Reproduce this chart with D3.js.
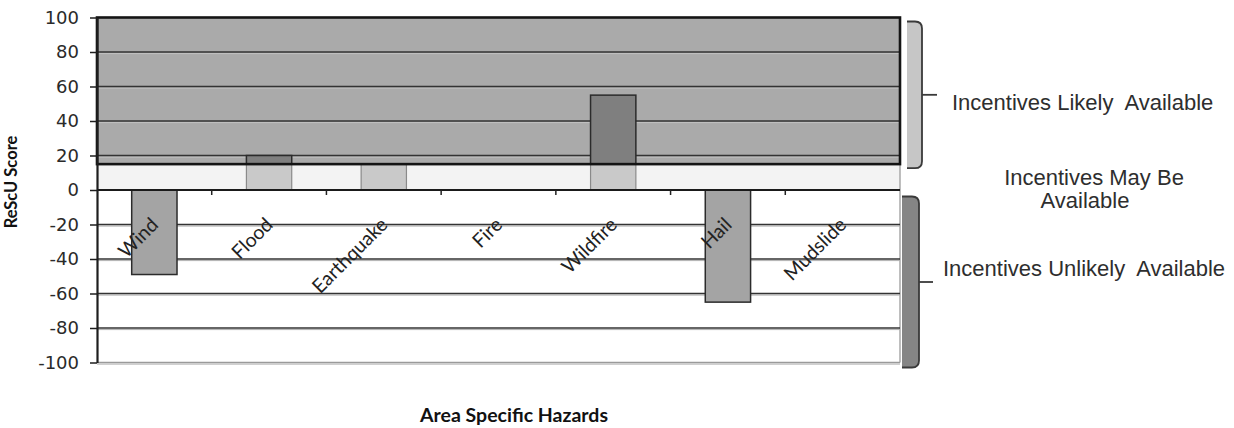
<!DOCTYPE html>
<html>
<head>
<meta charset="utf-8">
<script src="https://cdn.jsdelivr.net/npm/d3@7/dist/d3.min.js"></script>
<style>
  html, body { margin: 0; padding: 0; background: #fff; }
  svg { display: block; }
</style>
</head>
<body>
<svg id="chart" width="1234" height="428"></svg>
<script>
// Hazard categories and their ReScU scores
const categories = ["Wind", "Flood", "Earthquake", "Fire", "Wildfire", "Hail", "Mudslide"];
const scores = [-49, 20, 15, 0, 55, -65, 0];

// Value axis ticks
const yTicks = [100, 80, 60, 40, 20, 0, -20, -40, -60, -80, -100];

// Score bands: [lower, upper] for each incentive zone
const zoneNames = ["Incentives Likely Available", "Incentives May Be Available", "Incentives Unlikely Available"];
const zoneLow = [15, 0, -100];
const zoneHigh = [100, 15, 0];

const svg = d3.select("#chart");

const x = d3.scaleBand().domain(categories).range([97, 900]);
const y = d3.scaleLinear().domain([-100, 100]).range([362.5, 17.5]);
const x0 = x.range()[0], x1 = x.range()[1];
const barW = x.bandwidth() * 0.395;

// zone styling: background, bar fill, bar outline
const zoneBg = ["#aaaaaa", "#f3f3f3", "#ffffff"];
const barFill = ["#7f7f7f", "#c9c9c9", "#a4a4a4"];
const barStroke = ["#2b2b2b", "#8a8a8a", "#2b2b2b"];

const plot = svg.append("g");

// zone backgrounds
plot.selectAll("rect.zone")
  .data(zoneNames)
  .join("rect")
  .attr("class", "zone")
  .attr("x", x0)
  .attr("width", x1 - x0)
  .attr("y", (d, i) => y(zoneHigh[i]))
  .attr("height", (d, i) => y(zoneLow[i]) - y(zoneHigh[i]))
  .attr("fill", (d, i) => zoneBg[i]);

// right edge of the lower zones
plot.append("line")
  .attr("x1", x1).attr("x2", x1)
  .attr("y1", y(zoneHigh[1])).attr("y2", y(-100))
  .attr("stroke", "#a8a8a8").attr("stroke-width", 1.5);

// horizontal gridlines
const gridVals = yTicks.filter(v => v !== 0 && v !== 100);
const inTop = v => v > zoneLow[0];
plot.selectAll("line.grid-hi")
  .data(gridVals)
  .join("line")
  .attr("class", "grid-hi")
  .attr("x1", x0).attr("x2", x1)
  .attr("y1", v => y(v) + 1.6).attr("y2", v => y(v) + 1.6)
  .attr("stroke", v => inTop(v) ? "#c2c2c2" : "#b0b0b0")
  .attr("stroke-width", 1);
plot.selectAll("line.grid")
  .data(gridVals)
  .join("line")
  .attr("class", "grid")
  .attr("x1", x0).attr("x2", x1)
  .attr("y1", v => y(v)).attr("y2", v => y(v))
  .attr("stroke", v => v === -100 ? "#9a9a9a" : "#333333")
  .attr("stroke-width", 1.6);

// bars, split into the part that falls in each zone
const segments = [];
categories.forEach((c, ci) => {
  const v = scores[ci];
  const lo = Math.min(0, v), hi = Math.max(0, v);
  zoneNames.forEach((z, zi) => {
    const a = Math.max(lo, zoneLow[zi]);
    const b = Math.min(hi, zoneHigh[zi]);
    if (b > a) segments.push({ c, a, b, zi });
  });
});

plot.selectAll("rect.bar")
  .data(segments)
  .join("rect")
  .attr("class", "bar")
  .attr("x", d => x(d.c) + (x.bandwidth() - barW) / 2)
  .attr("width", barW)
  .attr("y", d => y(d.b))
  .attr("height", d => y(d.a) - y(d.b))
  .attr("fill", d => barFill[d.zi])
  .attr("stroke", d => barStroke[d.zi])
  .attr("stroke-width", d => d.zi === 1 ? 1.2 : 1.5);

// frame around the "likely" zone
plot.append("rect")
  .attr("x", x0).attr("width", x1 - x0)
  .attr("y", y(zoneHigh[0])).attr("height", y(zoneLow[0]) - y(zoneHigh[0]))
  .attr("fill", "none")
  .attr("stroke", "#141414")
  .attr("stroke-width", 2.6);

// zero line
plot.append("line")
  .attr("x1", x0).attr("x2", x1)
  .attr("y1", y(0)).attr("y2", y(0))
  .attr("stroke", "#1a1a1a").attr("stroke-width", 2);

// category separators below the zero line
plot.selectAll("line.sep")
  .data(categories.slice(1))
  .join("line")
  .attr("class", "sep")
  .attr("x1", d => x(d)).attr("x2", d => x(d))
  .attr("y1", y(0)).attr("y2", y(0) + 5)
  .attr("stroke", "#222").attr("stroke-width", 1.5);

// value axis
const yAxis = svg.append("g")
  .attr("transform", `translate(${x0},0)`)
  .call(d3.axisLeft(y).tickValues(yTicks).tickSize(7).tickSizeOuter(0).tickPadding(11).tickFormat(d => String(d)));
yAxis.select(".domain").attr("stroke", "#1e1e1e").attr("stroke-width", 2.2);
yAxis.selectAll(".tick line").attr("stroke", "#1e1e1e").attr("stroke-width", 1.5);
yAxis.selectAll(".tick text")
  .attr("fill", "#2a2a2a")
  .style("font-family", "'DejaVu Sans', sans-serif")
  .style("font-size", "18px");

// category labels, angled inside the lower zone
const xAxis = svg.append("g")
  .attr("transform", `translate(0,${y(0)})`)
  .call(d3.axisBottom(x).tickSize(0).tickPadding(0));
xAxis.select(".domain").remove();
xAxis.selectAll(".tick text")
  .attr("y", 0).attr("dy", 0)
  .attr("text-anchor", "end")
  .attr("transform", "translate(5,36) rotate(-45)")
  .attr("fill", "#222")
  .style("font-family", "Lato, 'Open Sans', sans-serif")
  .style("font-size", "19.5px");

// axis titles
svg.append("text")
  .attr("transform", "translate(17,182) rotate(-90)")
  .attr("text-anchor", "middle")
  .attr("fill", "#111")
  .style("font-family", "Lato, sans-serif")
  .style("font-weight", "bold")
  .style("font-size", "16.5px")
  .text("ReScU Score");

svg.append("text")
  .attr("x", 514).attr("y", 422)
  .attr("text-anchor", "middle")
  .attr("fill", "#111")
  .style("font-family", "Lato, sans-serif")
  .style("font-weight", "bold")
  .style("font-size", "19.5px")
  .text("Area Specific Hazards");

// zone braces
function brace(g, top, bottom, left, right, tipX, fill) {
  const r = 7, mid = (top + bottom) / 2;
  g.append("path")
    .attr("d", `M${left},${top} H${right - r} Q${right},${top} ${right},${top + r} V${bottom - r} Q${right},${bottom} ${right - r},${bottom} H${left} Z`)
    .attr("fill", fill)
    .attr("stroke", "none");
  g.append("path")
    .attr("d", `M${left},${top} H${right - r} Q${right},${top} ${right},${top + r} V${bottom - r} Q${right},${bottom} ${right - r},${bottom} H${left}`)
    .attr("fill", "none")
    .attr("stroke", "#3a3a3a")
    .attr("stroke-width", 1.8);
  g.append("line")
    .attr("x1", right).attr("x2", tipX)
    .attr("y1", mid).attr("y2", mid)
    .attr("stroke", "#3a3a3a").attr("stroke-width", 1.8);
}
const braces = svg.append("g");
brace(braces, y(zoneHigh[0]) + 4, y(zoneLow[0]) + 4, 907, 922, 937, "#c6c6c6");
brace(braces, y(zoneHigh[2]) + 6.5, y(zoneLow[2]) + 5, 902, 919, 933, "#858585");

// zone labels
const labelStyle = sel => sel
  .attr("fill", "#2e2e2e")
  .style("font-family", "'Liberation Sans', Arial, sans-serif")
  .style("font-size", "22px")
  .style("white-space", "pre");

labelStyle(svg.append("text").attr("x", 952).attr("y", 110).text("Incentives Likely  Available"));
const mid = svg.append("text").attr("text-anchor", "middle");
labelStyle(mid);
mid.append("tspan").attr("x", 1094).attr("y", 185).text("Incentives May Be");
mid.append("tspan").attr("x", 1085).attr("y", 208).text("Available");
labelStyle(svg.append("text").attr("x", 943).attr("y", 276).text("Incentives Unlikely  Available"));
</script>
</body>
</html>
